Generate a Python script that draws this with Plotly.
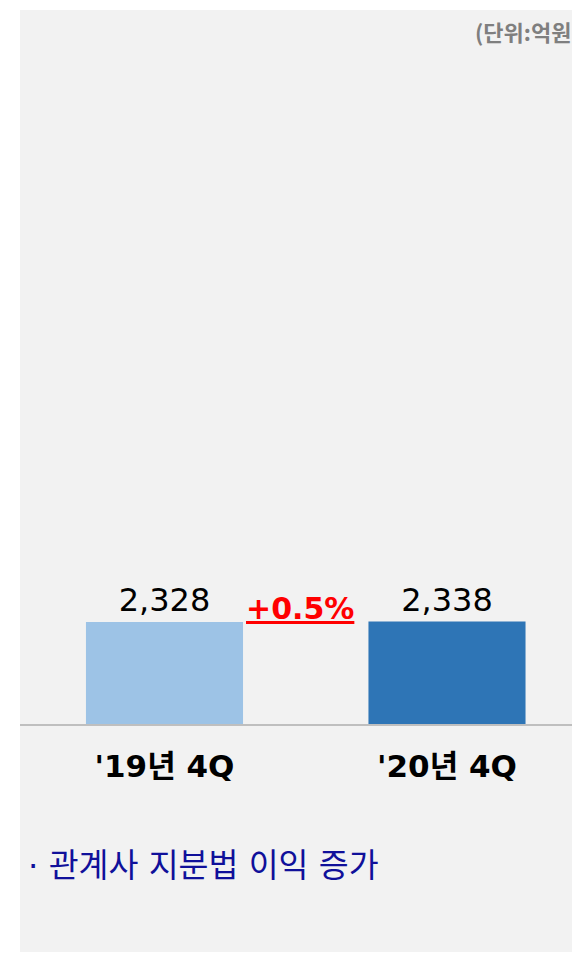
import plotly.graph_objects as go

categories = ["'19년 4Q", "'20년 4Q"]
values = [2328, 2338]
value_labels = ["2,328", "2,338"]
bar_colors = ["#9dc3e6", "#2e75b6"]
change_label = "+0.5%"
unit_label = "(단위:억원)"
note_label = "· 관계사 지분법 이익 증가"

W, H = 572, 954
ml, mr, mt, mb = 20, 0, 10, 2
plot_w = W - ml - mr
plot_h = H - mt - mb

KR = "Noto Sans CJK KR"
MIX = "DejaVu Sans, Noto Sans CJK KR"

fig = go.Figure()
fig.add_trace(go.Bar(
    x=[0, 1], y=values,
    marker=dict(color=bar_colors, line=dict(width=0)),
    width=0.556,
    text=value_labels, textposition="outside",
    textfont=dict(family="DejaVu Sans", size=32, color="#000000"),
    cliponaxis=False, hoverinfo="skip",
))

fig.update_layout(
    width=W, height=H,
    margin=dict(l=ml, r=mr, t=mt, b=mb),
    paper_bgcolor="#ffffff",
    plot_bgcolor="rgba(0,0,0,0)",
    showlegend=False,
    xaxis=dict(
        range=[-0.5115, 1.4425],
        tickmode="array", tickvals=[0, 1], ticktext=categories,
        tickfont=dict(family=MIX, size=31, color="#000000", weight="bold"),
        ticks="", ticklabelstandoff=14,
        showline=True, linecolor="#bfbfbf", linewidth=1.5,
        showgrid=False, zeroline=False, fixedrange=True,
    ),
    yaxis=dict(
        domain=[(952 - 724) / plot_h, 1],
        range=[0, 16296],
        visible=False, showgrid=False, zeroline=False, fixedrange=True,
    ),
    shapes=[dict(type="rect", xref="paper", yref="paper", x0=0, x1=1, y0=0, y1=1,
                 fillcolor="#f2f2f2", line=dict(width=0), layer="below")],
    annotations=[
        dict(x=0.478, y=values[0], xref="x", yref="y", text="<u>" + change_label + "</u>",
             showarrow=False, yanchor="bottom", yshift=-6,
             font=dict(family="DejaVu Sans", size=30, color="#ff0000", weight="bold")),
        dict(x=(473 - ml) / plot_w, y=(952 - 31) / plot_h, xref="paper", yref="paper",
             text=unit_label, showarrow=False, xanchor="left", yanchor="middle",
             font=dict(family=KR, size=22, color="#7f7f7f", weight="bold")),
        dict(x=(26 - ml) / plot_w, y=(952 - 866) / plot_h, xref="paper", yref="paper",
             text=note_label, showarrow=False, xanchor="left", yanchor="middle",
             font=dict(family=MIX, size=32.5, color="#10109a")),
    ],
)

fig.write_html("out.html", config={"displayModeBar": False},
               post_script="document.body.style.margin='0';document.body.style.overflow='hidden';")
